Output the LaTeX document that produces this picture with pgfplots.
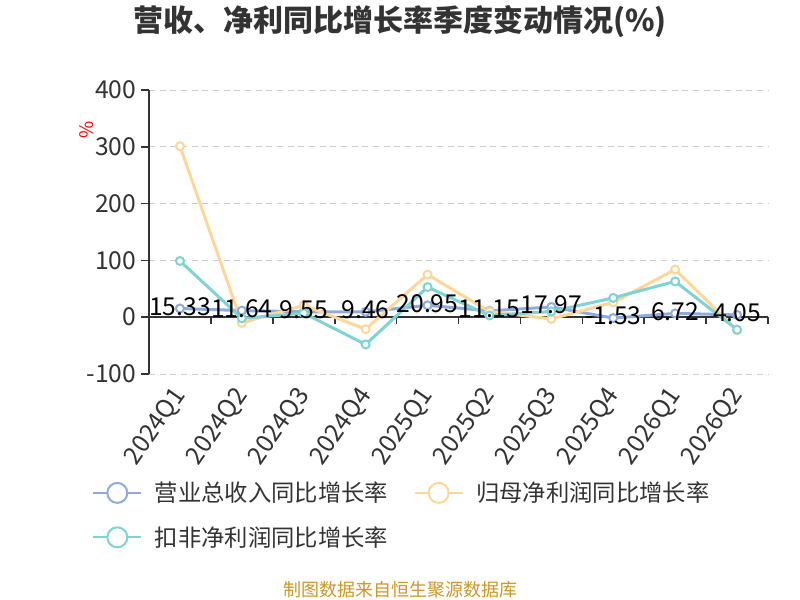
\documentclass[border=0pt]{standalone}
\usepackage{fontspec}
\setmainfont{Noto Sans CJK SC}
\usepackage{pgfplots}
\usepackage{pgfplotstable}
\pgfplotsset{compat=1.18}
\definecolor{cB}{RGB}{143,170,220}
\definecolor{cO}{RGB}{255,214,153}
\definecolor{cT}{RGB}{127,211,212}
\definecolor{txt}{RGB}{51,51,51}
\definecolor{grd}{RGB}{204,204,204}
\definecolor{foot}{RGB}{204,150,40}
\pgfplotstableread{
x rev lab np kf
0 15.33 15.33 301 99
1 11.64 11.64 -10 -2
2 9.55 9.55 21 7
3 9.46 9.46 -21 -48
4 20.95 20.95 75 53
5 11.15 11.15 10 3
6 17.97 17.97 -3 10
7 -1.53 -1.53 26 34
8 6.72 6.72 84 63
9 4.05 4.05 -23 -22
}\data
\begin{document}
\begin{tikzpicture}
\path[use as bounding box] (0pt,0pt) rectangle (600pt,450pt);
\node[font=\bfseries\fontsize{22.5}{26}\selectfont, text=txt] at (300pt,433.5pt) {营收、净利同比增长率季度变动情况(\%)};
\node[font=\fontsize{13.5}{16}\selectfont, text=foot] at (300pt,8pt) {制图数据来自恒生聚源数据库};
\node[font=\fontsize{14}{16}\selectfont, text=red, rotate=90] at (65.25pt,352.5pt) {\%};
\begin{axis}[
 at={(111.75pt,169.5pt)}, anchor=south west,
 scale only axis, width=464.25pt, height=213pt,
 xmin=-0.5, xmax=9.5, ymin=-100, ymax=400,
 clip=false,
 axis x line*=bottom, x axis line style={draw=none},
 axis y line*=left, y axis line style={txt, line width=1.2pt, -},
 xtick={0,...,9},
 xticklabels={2024Q1,2024Q2,2024Q3,2024Q4,2025Q1,2025Q2,2025Q3,2025Q4,2026Q1,2026Q2},
 x tick style={draw=none},
 ytick={-100,0,100,200,300,400},
 y tick style={txt, line width=1.2pt},
 major tick length=6pt, tick align=outside,
 ymajorgrids, major grid style={grd, dash pattern=on 4.5pt off 3.5pt, line width=0.75pt},
 /pgf/number format/assume math mode=true,
 yticklabel style={font=\fontsize{18.5}{20}\selectfont, text=txt},
 xticklabel style={xshift=-7.5pt, yshift=3pt, rotate=55, anchor=north east, font=\fontsize{18.5}{20}\selectfont, text=txt},
 legend columns=2,
 legend style={at={(-0.092,-0.37)}, anchor=north west, draw=none, fill=none, inner sep=0pt,
   font=\fontsize{17.5}{20}\selectfont, text=txt,
   /tikz/every odd column/.append style={column sep=7.5pt},
   /tikz/every even column/.append style={column sep=17pt},
   row sep=13pt},
]
\draw[txt, line width=1.2pt] (axis cs:-0.5,0) -- (axis cs:9.5,0);
\pgfplotsinvokeforeach{0,...,10}{\draw[txt, line width=1.2pt] (axis cs:#1-0.5,0) -- ([yshift=-5pt]axis cs:#1-0.5,0);}
\addplot[cB, line width=2.25pt, mark=*, mark size=3pt, mark options={fill=white, line width=1.5pt},
  legend image code/.code={\draw[line width=1.5pt, cB] (0pt,0pt) -- (36pt,0pt); \draw[line width=1.5pt, cB, fill=white] (18pt,0pt) circle (7.5pt);}]
  table[x=x, y=rev] {\data};
\addlegendentry{营业总收入同比增长率}
\addplot[cO, line width=2.25pt, mark=*, mark size=3pt, mark options={fill=white, line width=1.5pt},
  legend image code/.code={\draw[line width=1.5pt, cO] (0pt,0pt) -- (36pt,0pt); \draw[line width=1.5pt, cO, fill=white] (18pt,0pt) circle (7.5pt);}]
  table[x=x, y=np] {\data};
\addlegendentry{归母净利润同比增长率}
\addplot[cT, line width=2.25pt, mark=*, mark size=3pt, mark options={fill=white, line width=1.5pt},
  legend image code/.code={\draw[line width=1.5pt, cT] (0pt,0pt) -- (36pt,0pt); \draw[line width=1.5pt, cT, fill=white] (18pt,0pt) circle (7.5pt);}]
  table[x=x, y=kf] {\data};
\addlegendentry{扣非净利润同比增长率}
\addplot[forget plot, draw=none, mark=none, point meta=explicit symbolic,
  nodes near coords,
  every node near coord/.style={anchor=center, yshift=1.5pt, font=\fontsize{18.5}{20}\selectfont, text=black}]
  table[x=x, y=rev, meta=lab] {\data};
\end{axis}
\end{tikzpicture}
\end{document}
